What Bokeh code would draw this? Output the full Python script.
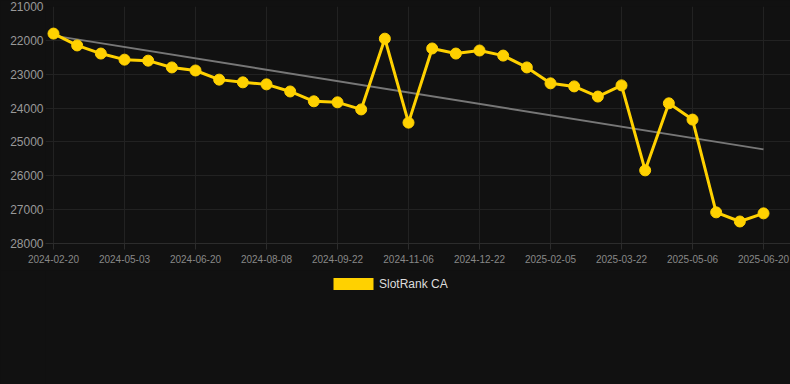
from bokeh.plotting import figure
from bokeh.layouts import column
from bokeh.models import (Range1d, FixedTicker, Legend, LegendItem, ColumnDataSource,
                          GlobalInlineStyleSheet)
from bokeh.embed import file_html
from bokeh.resources import INLINE

dates = ["2024-02-20", "2024-03-15", "2024-04-09", "2024-05-03", "2024-05-19", "2024-06-04",
         "2024-06-20", "2024-07-06", "2024-07-23", "2024-08-08", "2024-08-23", "2024-09-07",
         "2024-09-22", "2024-10-07", "2024-10-22", "2024-11-06", "2024-11-21", "2024-12-07",
         "2024-12-22", "2025-01-06", "2025-01-21", "2025-02-05", "2025-02-20", "2025-03-07",
         "2025-03-22", "2025-04-06", "2025-04-21", "2025-05-06", "2025-05-21", "2025-06-05",
         "2025-06-20"]
rank = [21800, 22150, 22390, 22570, 22600, 22800, 22890, 23160, 23240, 23300, 23510, 23800,
        23830, 24040, 21950, 24430, 22240, 22390, 22300, 22450, 22800, 23270, 23360, 23660,
        23330, 25840, 23860, 24340, 27080, 27350, 27110]
trend_start = 21860
trend_end = 25220
y_ticks = [21000, 22000, 23000, 24000, 25000, 26000, 27000, 28000]
series_name = "SlotRank CA"

idx = list(range(len(dates)))
tick_idx = idx[::3]

BG = "#111111"
YEL = "#FFD100"
FONT = "Liberation Sans"

p = figure(width=790, height=270, output_backend="svg", toolbar_location=None,
           x_range=Range1d(-0.338, 31.14), y_range=Range1d(28000, 21000),
           min_border_left=45, min_border_right=0, min_border_top=6, min_border_bottom=27,
           background_fill_color=BG, border_fill_color=BG, outline_line_color=None)

# grid
p.xgrid.grid_line_color = "#222222"
p.ygrid.grid_line_color = "#222222"

# x axis
p.xaxis.ticker = FixedTicker(ticks=tick_idx)
p.xaxis.major_label_overrides = {i: dates[i] for i in tick_idx}
p.xaxis.axis_line_color = "#2c2c2c"
p.xaxis.major_tick_line_color = "#2c2c2c"
p.xaxis.major_tick_out = 6
p.xaxis.major_tick_in = 0
p.xaxis.minor_tick_line_color = None
p.xaxis.major_label_text_color = "#888888"
p.xaxis.major_label_text_font = FONT
p.xaxis.major_label_text_font_size = "10px"
p.xaxis.major_label_standoff = 5

# y axis
p.yaxis.ticker = FixedTicker(ticks=y_ticks)
p.yaxis.major_label_overrides = {v: str(v) for v in y_ticks}
p.yaxis.axis_line_color = None
p.yaxis.major_tick_line_color = None
p.yaxis.major_tick_out = 0
p.yaxis.major_tick_in = 0
p.yaxis.minor_tick_line_color = None
p.yaxis.minor_tick_out = 0
p.yaxis.major_label_text_color = "#999999"
p.yaxis.major_label_text_font = FONT
p.yaxis.major_label_text_font_size = "12px"
p.yaxis.major_label_standoff = 2

src = ColumnDataSource(dict(x=idx, y=rank))

p.line(x=[idx[0], idx[-1]], y=[trend_start, trend_end], line_color="#777777", line_width=2)
p.line("x", "y", source=src, line_color=YEL, line_width=3)
p.scatter("x", "y", source=src, size=11, fill_color=YEL, line_color=YEL)

# legend strip below the chart
lg = figure(width=790, height=114, output_backend="svg", toolbar_location=None,
            x_range=Range1d(0, 1), y_range=Range1d(0, 1),
            min_border_left=0, min_border_right=0, min_border_top=0, min_border_bottom=0,
            background_fill_color=BG, border_fill_color=BG, outline_line_color=None)
lg.axis.visible = False
lg.grid.visible = False
swatch_src = ColumnDataSource(dict(left=[float("nan")], right=[float("nan")],
                                   top=[float("nan")], bottom=[float("nan")]))
swatch = lg.quad(left="left", right="right", top="top", bottom="bottom", source=swatch_src,
                 fill_color=YEL, line_color=None)
legend = Legend(items=[LegendItem(label=series_name, renderers=[swatch])],
                location=(283, 93), orientation="horizontal",
                glyph_width=50, glyph_height=15, label_height=12, label_standoff=1,
                padding=0, margin=0, spacing=0,
                background_fill_alpha=0, border_line_color=None,
                label_text_color="#dddddd", label_text_font=FONT, label_text_font_size="12px")
lg.add_layout(legend, "center")

layout = column(p, lg, spacing=0)
layout.stylesheets = [GlobalInlineStyleSheet(css="body{background:#111111;}")]

open("out.html", "w").write(file_html(layout, INLINE))
